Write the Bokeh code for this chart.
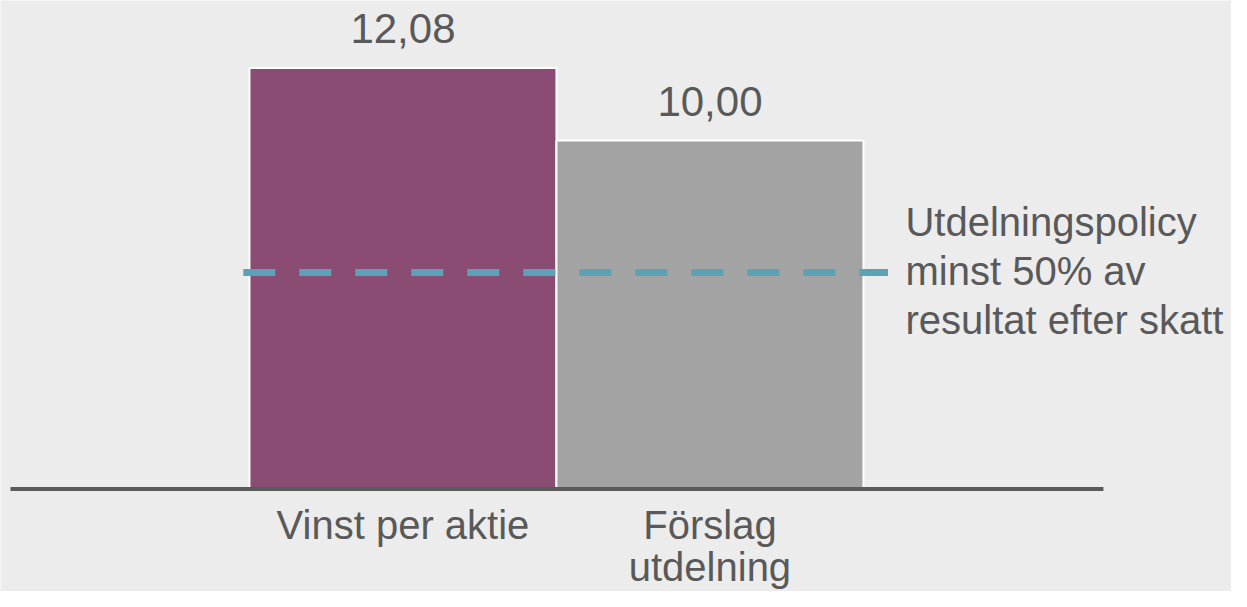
from bokeh.plotting import figure
from bokeh.models import Range1d
from bokeh.core.properties import value
from bokeh.embed import file_html
from bokeh.resources import INLINE

# ---- data ----
categories = ["Vinst per aktie", "Förslag\nutdelning"]
values = [12.08, 10.00]
value_labels = ["12,08", "10,00"]
bar_colors = ["#8B4C74", "#A3A3A3"]
policy_level = 6.21
policy_lines = ["Utdelningspolicy", "minst 50% av", "resultat efter skatt"]

# ---- style / layout ----
BG = "#ECECEC"
TXT = "#595959"
FONT = value("Liberation Sans")
FS = "42px"

p = figure(width=1231, height=591,
           x_range=Range1d(-1.311, 2.699), y_range=Range1d(-2.940, 14.013),
           output_backend="svg", toolbar_location=None, min_border=0)
p.axis.visible = False
p.grid.visible = False
p.outline_line_color = None
p.background_fill_color = BG
p.border_fill_color = BG

xs = list(range(len(categories)))

# bars
p.vbar(x=xs, top=values, bottom=0, width=1.0, fill_color=bar_colors,
       line_color="white", line_width=2)

# baseline (axis line)
base_x0 = xs[0] - 0.5 - 0.7785
base_x1 = xs[-1] + 0.5 + 0.7818
p.segment(x0=[base_x0], x1=[base_x1], y0=[0], y1=[0], line_color=TXT, line_width=4)

# policy dashed line
pol_x0 = xs[0] - 0.52
pol_x1 = xs[-1] + 0.58
p.segment(x0=[pol_x0], x1=[pol_x1], y0=[policy_level], y1=[policy_level],
          line_color="#5BA2B6", line_width=7, line_dash="32 24")

# value labels
p.text(x=xs, y=values, text=value_labels, text_align="center", text_baseline="alphabetic",
       y_offset=-39, text_font=FONT, text_font_size=FS, text_color=TXT)

# category labels (multi-line split)
for i, cat in enumerate(categories):
    lines = cat.split("\n")
    for j, ln in enumerate(lines):
        p.text(x=[xs[i]], y=[0], text=[ln], text_align="center", text_baseline="alphabetic",
               y_offset=36 + j * 42, text_font=FONT, text_font_size="40px", text_color=TXT)

# policy annotation
ann_x = xs[-1] + 0.637
for j, ln in enumerate(policy_lines):
    p.text(x=[ann_x], y=[policy_level], text=[ln], text_align="left", text_baseline="alphabetic",
           y_offset=-51 + j * 49, text_font=FONT, text_font_size="40px", text_color=TXT)

open("out.html", "w").write(file_html(p, INLINE))
